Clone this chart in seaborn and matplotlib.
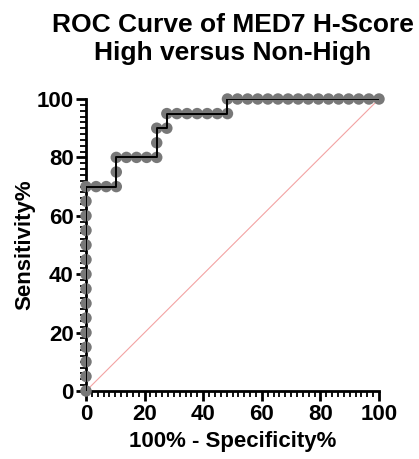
import matplotlib
matplotlib.use("Agg")
import matplotlib.pyplot as plt
import seaborn as sns
import pandas as pd
from matplotlib.ticker import MultipleLocator

sns.set_theme(style="ticks")
plt.rcParams['font.family'] = ['Liberation Sans', 'DejaVu Sans']
plt.rcParams['font.weight'] = 'bold'
plt.rcParams['text.color'] = 'black'
plt.rcParams['axes.labelcolor'] = 'black'

# ROC points (100% - Specificity%, Sensitivity%)
fpr = [0, 0, 0, 0, 0, 0, 0, 0, 0, 0, 0, 0, 0, 0, 0,
       3.45, 6.90, 10.34, 10.34, 10.34,
       13.79, 17.24, 20.69, 24.14, 24.14, 24.14,
       27.59, 27.59,
       31.03, 34.48, 37.93, 41.38, 44.83, 48.28, 48.28,
       51.72, 55.17, 58.62, 62.07, 65.52, 68.97, 72.41, 75.86,
       79.31, 82.76, 86.21, 89.66, 93.10, 96.55, 100.0]
tpr = [0, 5, 10, 15, 20, 25, 30, 35, 40, 45, 50, 55, 60, 65, 70,
       70, 70, 70, 75, 80,
       80, 80, 80, 80, 85, 90,
       90, 95,
       95, 95, 95, 95, 95, 95, 100,
       100, 100, 100, 100, 100, 100, 100, 100,
       100, 100, 100, 100, 100, 100, 100]
diag_x = [0, 100]
diag_y = [0, 100]

title = "ROC Curve of MED7 H-Score\nHigh versus Non-High"
xlabel = "100% - Specificity%"
ylabel = "Sensitivity%"
ticks = [0, 20, 40, 60, 80, 100]

df = pd.DataFrame({"fpr": fpr, "tpr": tpr})
dd = pd.DataFrame({"x": diag_x, "y": diag_y})

fig = plt.figure(figsize=(4.19, 4.59), dpi=100)
ax = fig.add_axes([86/419, 1-391/459, (379-86)/419, (391-99)/459])

sns.lineplot(data=dd, x="x", y="y", ax=ax, color="#f3a3a3", linewidth=0.8,
             estimator=None, sort=False, zorder=1)
sns.scatterplot(data=df, x="fpr", y="tpr", ax=ax, s=68, color="#787878",
                edgecolor="none", zorder=3, clip_on=False)
sns.lineplot(data=df, x="fpr", y="tpr", ax=ax, estimator=None,
             sort=False, color="black", linewidth=1.4, zorder=4)

ax.set_xlim(0, 100)
ax.set_ylim(0, 100)
ax.set_xticks(ticks)
ax.set_yticks(ticks)
ax.xaxis.set_minor_locator(MultipleLocator(2))
ax.yaxis.set_minor_locator(MultipleLocator(2))
ax.tick_params(axis="both", which="major", length=7, width=2, labelsize=16,
               pad=2, color="black", labelcolor="black")
ax.tick_params(axis="both", which="minor", length=4, width=1.3, color="black")
for lab in ax.get_xticklabels() + ax.get_yticklabels():
    lab.set_fontweight("bold")

for s in ["top", "right"]:
    ax.spines[s].set_visible(False)
for s in ["left", "bottom"]:
    ax.spines[s].set_linewidth(2)
    ax.spines[s].set_color("black")

ax.set_xlabel(xlabel, fontsize=16, fontweight="bold", labelpad=5, color="black")
ax.set_ylabel(ylabel, fontsize=16, fontweight="bold", labelpad=1, color="black")
ax.set_title(title, fontsize=19, fontweight="bold", pad=28, color="black")
ax.set_facecolor("white")
fig.patch.set_facecolor("white")

fig.savefig("out.png", dpi=100, facecolor="white")
